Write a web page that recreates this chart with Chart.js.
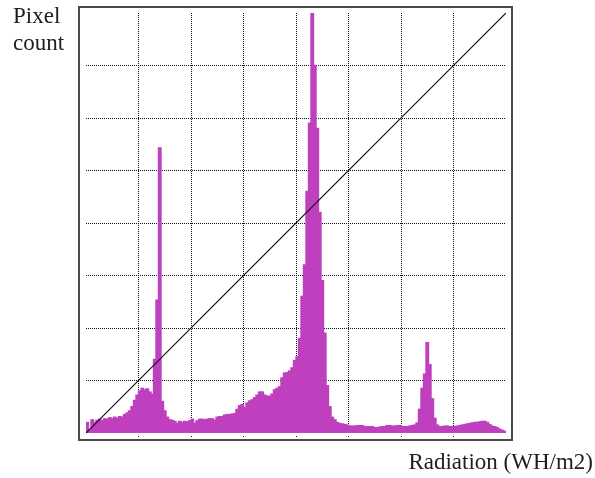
<!DOCTYPE html>
<html>
<head>
<meta charset="utf-8">
<script src="https://cdn.jsdelivr.net/npm/chart.js@4/dist/chart.umd.min.js"></script>
<style>
  body { margin: 0; background: #fff; }
</style>
</head>
<body>
<canvas id="histChart" width="595" height="478"></canvas>
<script>
// histogram bins (168 bins, 21 per grid cell), height in grid units
const binsPerCell = 21;
const cells = 8;
const counts = [
  0.2, 0.04, 0.25, 0.2, 0.24, 0.26, 0.23, 0.27, 0.26, 0.29,
  0.27, 0.3, 0.28, 0.31, 0.3, 0.35, 0.38, 0.42, 0.5, 0.62,
  0.72, 0.8, 0.85, 0.82, 0.84, 0.78, 0.74, 1.4, 2.53, 5.43,
  0.6, 0.42, 0.3, 0.25, 0.24, 0.22, 0.18, 0.22, 0.2, 0.22,
  0.21, 0.23, 0.26, 0.18, 0.23, 0.26, 0.26, 0.25, 0.26, 0.27,
  0.27, 0.24, 0.3, 0.31, 0.31, 0.34, 0.35, 0.35, 0.36, 0.37,
  0.45, 0.52, 0.54, 0.48, 0.57, 0.61, 0.63, 0.67, 0.72, 0.78,
  0.78, 0.72, 0.7, 0.7, 0.74, 0.82, 0.85, 0.88, 1.05, 1.14,
  1.15, 1.18, 1.24, 1.38, 1.45, 1.8, 2.6, 3.2, 4.6, 5.9,
  8.0, 7.0, 5.8, 4.2, 2.9, 1.9, 0.9, 0.5, 0.3, 0.25,
  0.2, 0.18, 0.17, 0.16, 0.15, 0.13, 0.13, 0.13, 0.14, 0.14,
  0.14, 0.12, 0.12, 0.12, 0.12, 0.1, 0.1, 0.11, 0.12, 0.12,
  0.14, 0.14, 0.13, 0.13, 0.14, 0.14, 0.12, 0.12, 0.12, 0.13,
  0.14, 0.15, 0.19, 0.45, 0.85, 1.12, 1.72, 1.3, 0.65, 0.28,
  0.15, 0.12, 0.12, 0.13, 0.13, 0.12, 0.12, 0.12, 0.13, 0.14,
  0.15, 0.16, 0.17, 0.18, 0.19, 0.2, 0.2, 0.21, 0.22, 0.22,
  0.2, 0.16, 0.13, 0.12, 0.1, 0.07, 0.05, 0.03
];
// reference diagonal y = x
const diagonalX = [0, counts.length];
const diagonalY = [0, cells];

const yLabel = ["Pixel", "count"];
const xLabel = "Radiation (WH/m2)";

const binMax = counts.length;
const histData = counts.map((v, i) => ({ x: i + 0.5, y: v }));
const diagData = diagonalX.map((x, i) => ({ x: x, y: diagonalY[i] }));

// frame around plot + the two labels
const framePlugin = {
  id: "frame",
  afterDraw(chart) {
    const ctx = chart.ctx;
    const a = chart.chartArea;
    ctx.save();
    ctx.strokeStyle = "#4a4a4a";
    ctx.lineWidth = 2;
    ctx.strokeRect(a.left - 7, a.top - 6, (a.right - a.left) + 13, (a.bottom - a.top) + 13);
    ctx.fillStyle = "#1e1e1e";
    ctx.font = "23px 'Liberation Serif'";
    ctx.textAlign = "left";
    ctx.textBaseline = "alphabetic";
    ctx.fillText(yLabel[0], 13, 23);
    ctx.fillText(yLabel[1], 13, 50);
    ctx.textAlign = "right";
    ctx.fillText(xLabel, 593, 469);
    ctx.restore();
  }
};

function hideEdges(max) {
  return (c) => {
    const v = c.tick ? c.tick.value : null;
    return (v === 0 || v === max) ? "rgba(0,0,0,0)" : "#111";
  };
}

new Chart(document.getElementById("histChart"), {
  type: "bar",
  data: {
    datasets: [
      {
        type: "line",
        data: diagData,
        borderColor: "#111",
        borderWidth: 1.2,
        pointRadius: 0,
        fill: false,
        order: 0
      },
      {
        data: histData,
        backgroundColor: "#BF40BF",
        borderWidth: 0,
        inflateAmount: 0.7,
        barPercentage: 1,
        categoryPercentage: 1,
        order: 1
      }
    ]
  },
  options: {
    responsive: false,
    animation: false,
    layout: { padding: { left: 86, right: 89, top: 13, bottom: 39 } },
    plugins: { legend: { display: false }, tooltip: { enabled: false } },
    scales: {
      x: {
        type: "linear",
        min: 0,
        max: binMax,
        offset: false,
        ticks: { display: false, stepSize: binsPerCell },
        border: { display: false, dash: [1, 1] },
        grid: {
          offset: false,
          color: hideEdges(binMax),
          lineWidth: 1,
          drawTicks: true,
          tickLength: 6,
          tickBorderDash: [0, 3, 1, 3]
        }
      },
      y: {
        min: 0,
        max: cells,
        ticks: { display: false, stepSize: 1 },
        border: { display: false, dash: [1, 1] },
        grid: { color: hideEdges(cells), lineWidth: 1, drawTicks: false }
      }
    }
  },
  plugins: [framePlugin]
});
</script>
</body>
</html>
